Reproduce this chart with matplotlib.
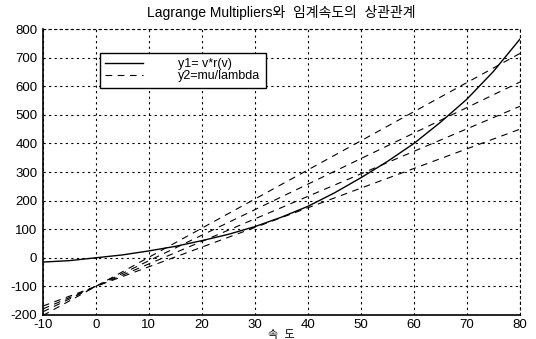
import matplotlib
matplotlib.use("Agg")
import matplotlib.pyplot as plt

plt.rcParams['font.family'] = ['Liberation Sans', 'Noto Sans CJK KR', 'DejaVu Sans']
plt.rcParams['axes.unicode_minus'] = False

# speed (x) and y1 = v*r(v)
v = [-10, -5, 0, 5, 10, 15, 20, 25, 30, 35, 40, 45, 50, 55, 60, 65, 70, 75, 80]
y1 = [-15, -10, 0, 10, 24, 40, 60, 82, 109, 142, 180, 227, 280, 337, 400, 474, 555, 652, 765]

# y2 = mu/lambda : straight dashed lines, endpoints at v=-10 and v=80
v2 = [-10, 80]
y2_a = [-202, 715]
y2_b = [-189, 615]
y2_c = [-179, 530]
y2_d = [-169, 450]

xticks = [-10, 0, 10, 20, 30, 40, 50, 60, 70, 80]
yticks = [-200, -100, 0, 100, 200, 300, 400, 500, 600, 700, 800]

fig = plt.figure(figsize=(5.36, 3.39), dpi=100)
ax = fig.add_axes([0.080, 0.071, 0.890, 0.843])

ax.plot(v, y1, color='black', lw=1.0, label='y1= v*r(v)')
ax.plot(v2, y2_a, color='black', lw=0.8, ls=(0, (6, 5)), label='y2=mu/lambda')
for yy in [y2_b, y2_c, y2_d]:
    ax.plot(v2, yy, color='black', lw=0.8, ls=(0, (6, 5)))

ax.set_xlim(-10, 80)
ax.set_ylim(-200, 800)
ax.set_xticks(xticks)
ax.set_yticks(yticks)
ax.tick_params(length=0, labelsize=9.5)
ax.tick_params(axis='x', pad=3)
ax.tick_params(axis='y', pad=4)
ax.grid(True, color='black', ls=(0, (2, 3)), lw=0.8)

for s in ['top', 'right']:
    ax.spines[s].set_linestyle((0, (2, 3)))
    ax.spines[s].set_linewidth(0.8)
ax.spines['left'].set_linewidth(1.2)
ax.spines['bottom'].set_linewidth(1.2)

ax.set_title('Lagrange Multipliers와  임계속도의  상관관계', fontsize=10, pad=9)
ax.set_xlabel('속  도', fontsize=8, labelpad=-1)

leg = ax.legend(loc='upper left', bbox_to_anchor=(0.119, 0.918), fontsize=9,
                fancybox=False, edgecolor='black', framealpha=1,
                handlelength=3.0, handletextpad=2.8, labelspacing=0.0,
                borderpad=0.45, borderaxespad=0)
leg.get_frame().set_linewidth(1.0)

fig.savefig('out.png', dpi=100)
